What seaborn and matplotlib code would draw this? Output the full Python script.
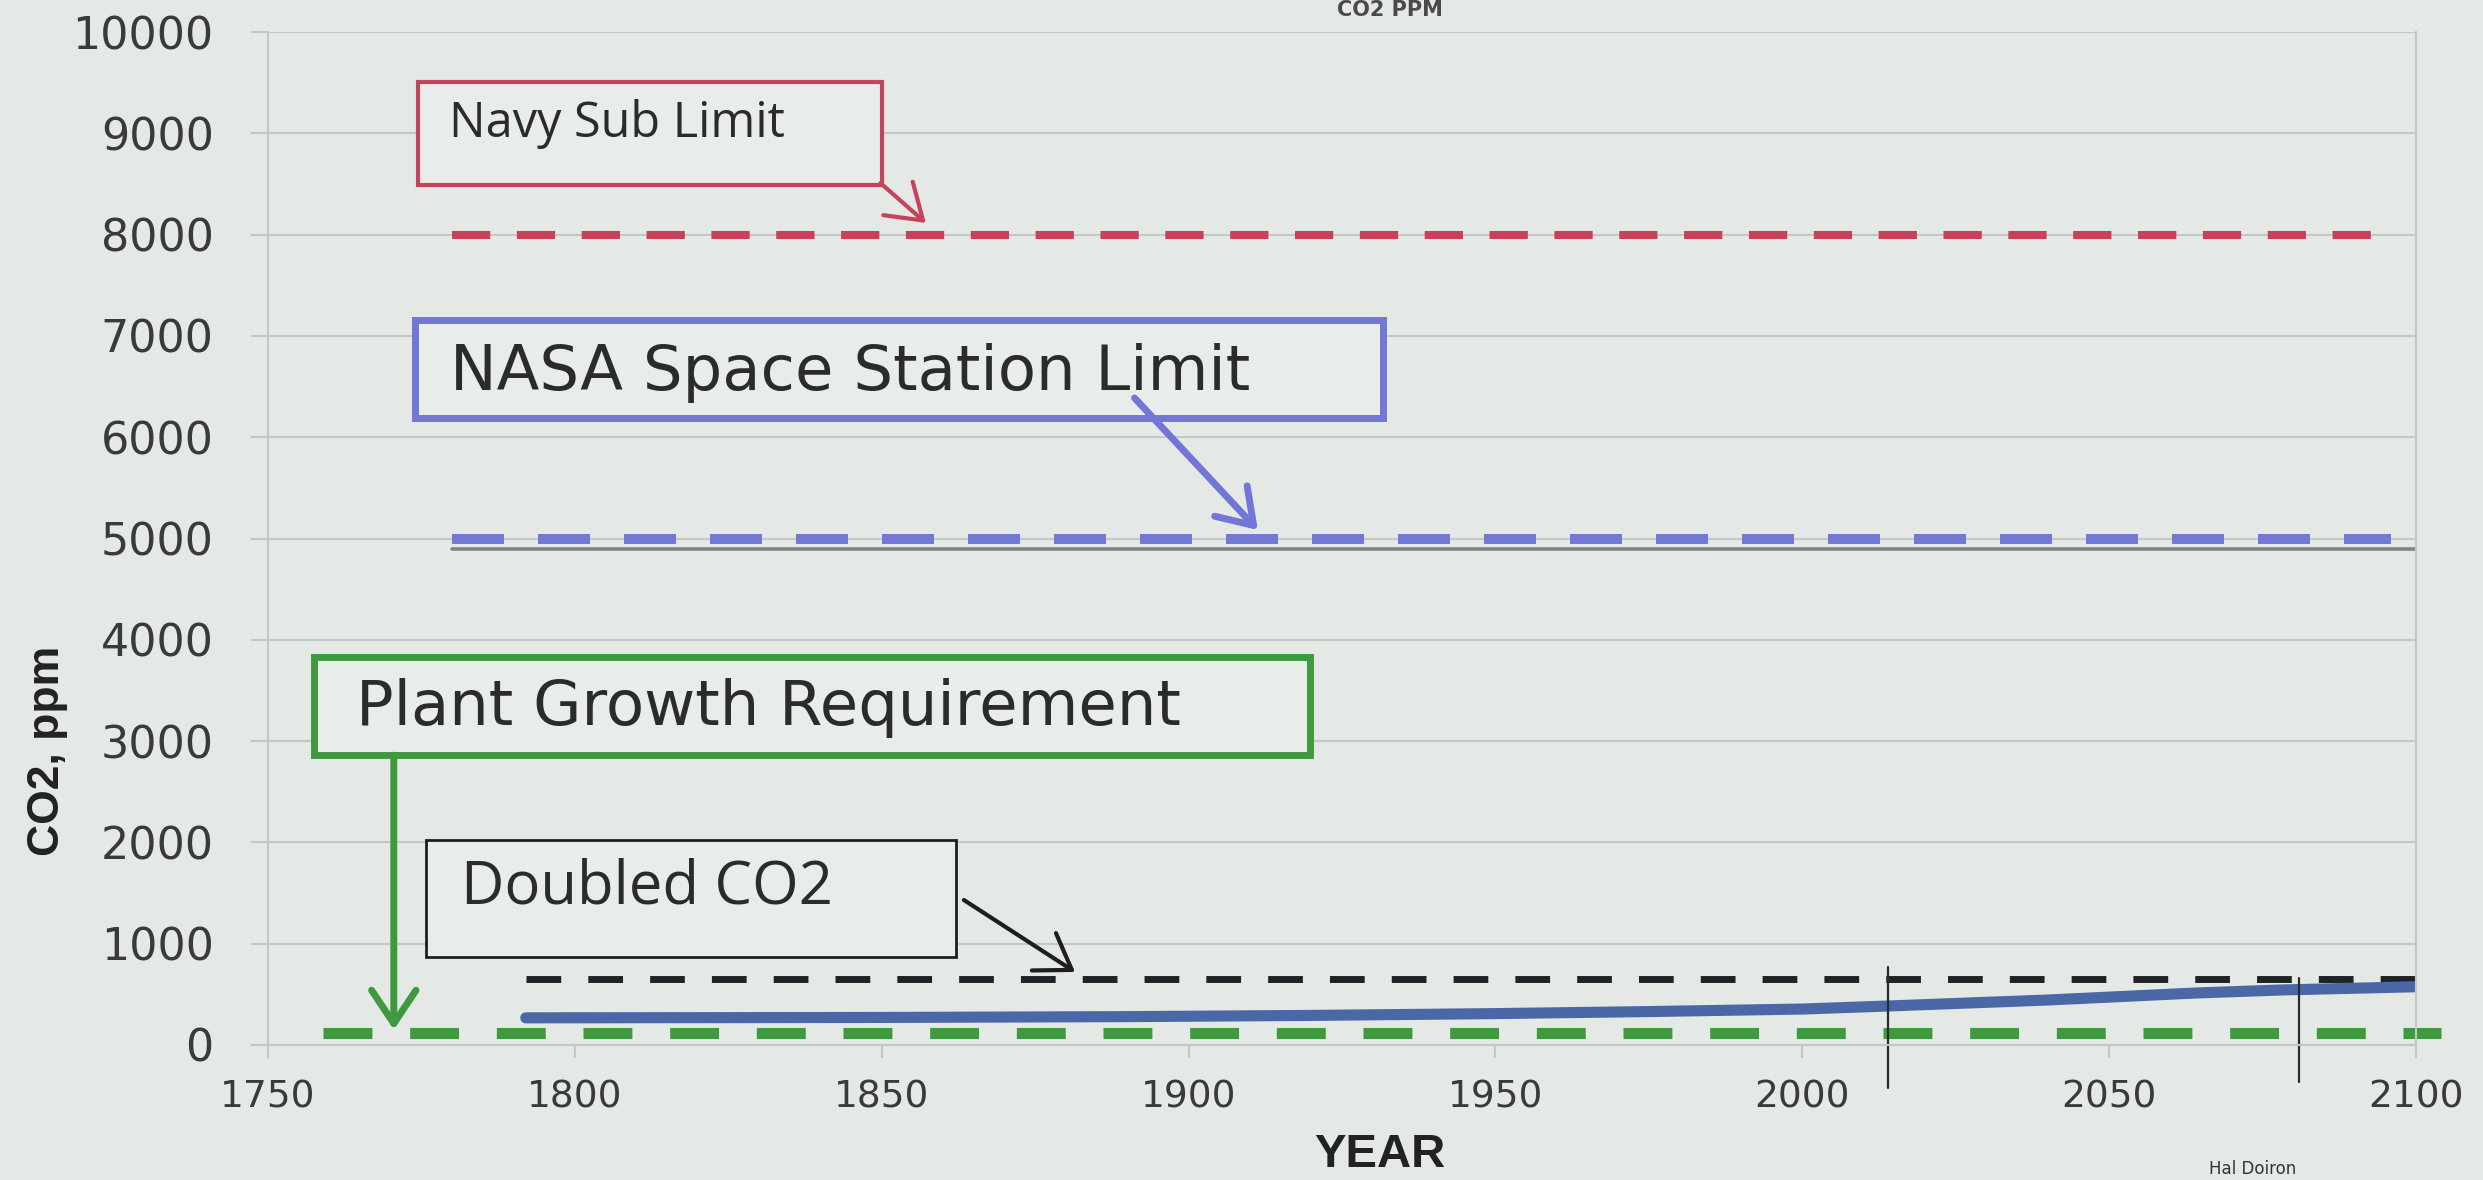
import matplotlib
matplotlib.use("Agg")
from matplotlib import pyplot as plt
from matplotlib.patches import Rectangle
import seaborn as sns

# CO2 concentration, ppm
co2_years = [1792, 1850, 1890, 1920, 1950, 1975, 2000, 2014, 2040, 2064, 2078, 2100]
co2_ppm = [268, 272, 280, 292, 310, 330, 355, 385, 444, 513, 543, 575]

# Reference levels
navy_years = [1780, 2096]
navy_ppm = [8000, 8000]
nasa_years = [1780, 2096]
nasa_ppm = [5000, 5000]
gray_years = [1780, 2100]
gray_ppm = [4900, 4900]
doubled_years = [1792, 2100]
doubled_ppm = [650, 650]
plant_years = [1759, 2104]
plant_ppm = [120, 120]

# Thin vertical markers
marker_years = [2014, 2081]
marker_top = [770, 660]
marker_bottom = [-425, -365]

x_ticks = list(range(1750, 2101, 50))
y_ticks = list(range(0, 10001, 1000))

# Boxes: label, (x0, y0, x1, y1), text anchor, arrow (start, tip), colour, width, font, size
boxes = [
    ("Navy Sub Limit", (1774.4, 8485, 1850.0, 9502), (1779.5, 8959),
     ((1849.8, 8509), (1857.2, 8115)), "#c5435b", 3, "Open Sans", 35),
    ("NASA Space Station Limit", (1774.0, 6187, 1931.7, 7153), (1779.7, 6463),
     ((1891.2, 6387), (1911.3, 5084)), "#7276d6", 5, "DejaVu Sans", 45),
    ("Plant Growth Requirement", (1757.5, 2861, 1919.8, 3828), (1764.3, 3157),
     ((1770.5, 2861), (1770.5, 150)), "#3f9a3f", 5, "DejaVu Sans", 45),
    ("Doubled CO2", (1775.7, 868, 1862.1, 2023), (1781.4, 1401),
     ((1863.4, 1431), (1881.5, 721)), "#1e1e1e", 2, "Open Sans", 43),
]

bg = "#e4e9e6"
grid_c = "#c3c8c6"
text_c = "#3a3a3a"

sns.set_style("white")
plt.rcParams['font.family'] = ['DejaVu Sans']

fig = plt.figure(figsize=(24.83, 11.8), dpi=100, facecolor=bg)
ax = fig.add_axes([268 / 2483, 1 - 1045 / 1180, 2148 / 2483, 1013 / 1180])
ax.set_facecolor(bg)

# Reference lines
sns.lineplot(x=navy_years, y=navy_ppm, ax=ax, color="#c8405a", lw=5.8,
             linestyle=(0, (4.75, 3.3)))
sns.lineplot(x=gray_years, y=gray_ppm, ax=ax, color="#7c8784", lw=2.6)
sns.lineplot(x=nasa_years, y=nasa_ppm, ax=ax, color="#7579d6", lw=7.2,
             linestyle=(0, (5.2, 3.4)))
sns.lineplot(x=doubled_years, y=doubled_ppm, ax=ax, color="#1e2326", lw=5,
             linestyle=(0, (5, 3.9)))
sns.lineplot(x=plant_years, y=plant_ppm, ax=ax, color="#3f9a3f", lw=8,
             linestyle=(0, (4.4, 3.4)), clip_on=False)
sns.lineplot(x=co2_years, y=co2_ppm, ax=ax, color="#4b68a6", lw=8,
             solid_capstyle="round")

for yr, top, bot in zip(marker_years, marker_top, marker_bottom):
    ax.plot([yr, yr], [bot, top], color="#2a2a2a", lw=1.6, clip_on=False)

# Labelled boxes with arrows
for label, (x0, y0, x1, y1), (tx, ty), (start, tip), col, blw, fam, fs in boxes:
    ax.add_patch(Rectangle((x0, y0), x1 - x0, y1 - y0, facecolor="#e8edea",
                           edgecolor=col, lw=blw, zorder=4))
    ax.text(tx, ty, label, fontsize=fs, family=[fam, 'DejaVu Sans'],
            color="#2b2b2b", va="baseline", ha="left", zorder=5)
    ax.annotate("", xy=tip, xytext=start, zorder=5,
                arrowprops=dict(arrowstyle="->,head_length=0.6,head_width=0.4",
                                mutation_scale=40, color=col, lw=max(blw, 3),
                                shrinkA=0, shrinkB=0))

ax.set_xlim(1750, 2100)
ax.set_ylim(0, 10000)
ax.set_xticks(x_ticks)
ax.set_yticks(y_ticks)
ax.yaxis.grid(True, color=grid_c, lw=1.5)
ax.xaxis.grid(False)
for side in ["left", "right", "bottom"]:
    ax.spines[side].set_color(grid_c)
    ax.spines[side].set_linewidth(1.5)
ax.spines["top"].set_visible(False)

ax.tick_params(axis="y", length=12, width=1.5, color=grid_c, pad=27,
               labelsize=32, labelcolor=text_c, left=True)
ax.tick_params(axis="x", length=9, width=1.5, color=grid_c, pad=16,
               labelsize=27, labelcolor=text_c, bottom=True)

ax.set_xlabel("YEAR", fontsize=34, fontweight="bold", color="#222222",
              family=['Liberation Sans', 'DejaVu Sans'])
ax.xaxis.set_label_coords(0.5177, -0.087)
ax.set_ylabel("CO2, ppm", fontsize=32, fontweight="bold", color="#222222",
              family=['Liberation Sans', 'DejaVu Sans'])
ax.yaxis.set_label_coords(-0.093, 0.29)

# Title squeezed against the top edge and credit at the bottom
fig.text(1390 / 2483, 1 - 16 / 1180, "CO2 PPM", fontsize=15, fontweight="bold",
         color="#4a4a4a", va="baseline", ha="center")
fig.text(2209 / 2483, 1 - 1160 / 1180, "Hal Doiron", fontsize=12,
         color="#333333", va="top", ha="left")

fig.savefig("out.png", dpi=100, facecolor=bg)
